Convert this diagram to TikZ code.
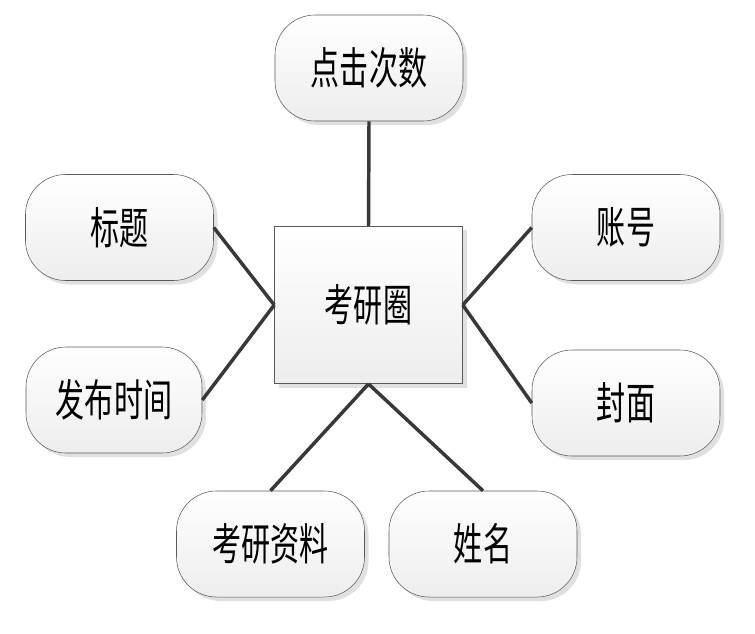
\documentclass[tikz,border=0pt]{standalone}
\usepackage{fontspec}
\newfontfamily\cjk{Noto Sans CJK SC}
\usetikzlibrary{shadows}
\newcommand{\zh}[1]{\scalebox{0.66}[1]{\cjk\fontsize{33}{33}\selectfont #1}}

\begin{document}
\begin{tikzpicture}[x=0.75pt,y=-0.75pt]
 \tikzstyle{attr}=[rectangle,draw=black!65,rounded corners=30pt,
   minimum width=141pt,minimum height=79.5pt,text centered,
   top color=white,bottom color=black!7,
   drop shadow={shadow xshift=3pt,shadow yshift=-3pt,fill=black!12,opacity=1}]
 \tikzstyle{entity}=[rectangle,draw=black!65,
   minimum width=141pt,minimum height=118pt,text centered,
   top color=white,bottom color=black!7,
   drop shadow={shadow xshift=3pt,shadow yshift=-3pt,fill=black!12,opacity=1}]
 \tikzstyle{link}=[line width=2.6pt,draw=black!78]
 \useasboundingbox (0,0) rectangle (755,633);
 \node (kyq) [entity] at (368.5,305) {\zh{考研圈}};
 \node (djcs) [attr] at (369,68) {\zh{点击次数}};
 \node (bt) [attr] at (119.5,227.5) {\zh{标题}};
 \node (fbsj) [attr,minimum width=132pt] at (114,400) {\zh{发布时间}};
 \node (zh) [attr] at (626,227.5) {\zh{账号}};
 \node (fm) [attr] at (626,403) {\zh{封面}};
 \node (kyzl) [attr] at (270.5,544) {\zh{考研资料}};
 \node (xm) [attr] at (483,544) {\zh{姓名}};
 \draw[link] (djcs.south) -- (kyq.north);
 \draw[link] (bt.east) -- (kyq.west);
 \draw[link] (fbsj.east) -- (kyq.west);
 \draw[link] (zh.west) -- (kyq.east);
 \draw[link] (fm.west) -- (kyq.east);
 \draw[link] (kyzl.north) -- (kyq.south);
 \draw[link] (xm.north) -- (kyq.south);
\end{tikzpicture}
\end{document}
